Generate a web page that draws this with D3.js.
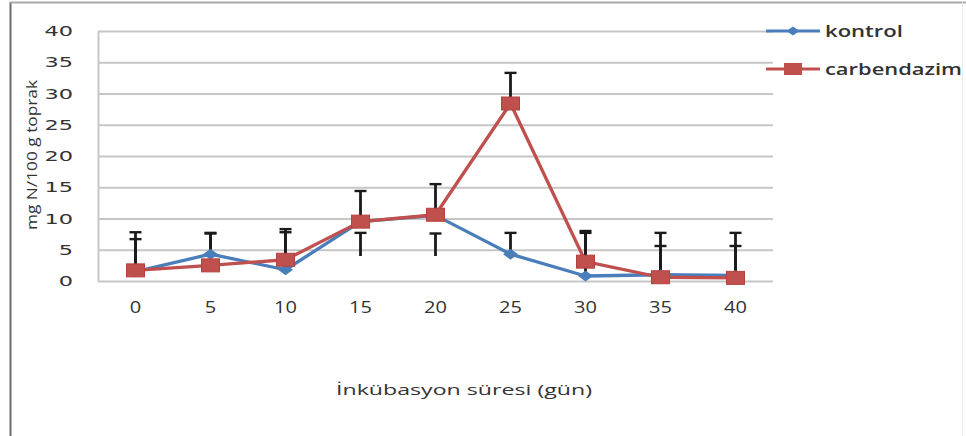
<!DOCTYPE html>
<html>
<head>
<meta charset="utf-8">
<script src="https://cdn.jsdelivr.net/npm/d3@7"></script>
<style>
  html, body { margin: 0; padding: 0; background: #fff; }
  svg { display: block; }
</style>
</head>
<body>
<svg id="chart" width="966" height="436"></svg>
<script>
// Incubation days (category axis)
const days = [0, 5, 10, 15, 20, 25, 30, 35, 40];
// Mineral N, mg N / 100 g soil
const kontrol     = [1.5, 4.3, 1.8, 9.5, 10.5, 4.3, 0.8, 1.0, 0.9];
const carbendazim = [1.7, 2.5, 3.4, 9.5, 10.6, 28.4, 3.1, 0.6, 0.5];
// Error bar extents (line from low to high, cap on the high end)
const kontrolErrLow      = [1.5, 4.3, 1.8, 4.0, 4.0, 4.3, 0.8, 1.0, 0.9];
const kontrolErrHigh     = [6.7, 7.6, 7.8, 7.7, 7.6, 7.7, 7.7, 5.6, 5.6];
const carbendazimErrLow  = [1.7, 2.5, 3.4, 9.5, 10.6, 28.4, 3.1, 0.6, 0.5];
const carbendazimErrHigh = [7.8, 7.7, 8.3, 14.4, 15.5, 33.3, 8.0, 7.7, 7.7];
const yTicks = [0, 5, 10, 15, 20, 25, 30, 35, 40];

const seriesNames = ["kontrol", "carbendazim"];
const colors = { kontrol: "#4A7EBB", carbendazim: "#C0504D" };

const svg = d3.select("#chart");

// outer frame
svg.append("line").attr("x1", 10.5).attr("x2", 10.5).attr("y1", 2).attr("y2", 436)
  .attr("stroke", "#6b6b6b").attr("stroke-width", 2);
svg.append("line").attr("x1", 10).attr("x2", 966).attr("y1", 2.5).attr("y2", 2.5)
  .attr("stroke", "#a8a8a8").attr("stroke-width", 2);
svg.append("line").attr("x1", 962.5).attr("x2", 962.5).attr("y1", 2).attr("y2", 436)
  .attr("stroke", "#ececec").attr("stroke-width", 1);

const plot = { left: 98, right: 773, top: 31, bottom: 281 };

const x = d3.scaleBand().domain(days).range([plot.left, plot.right]);
const cx = d => x(d) + x.bandwidth() / 2;
const y = d3.scaleLinear().domain([0, 40]).range([plot.bottom, plot.top]);

// horizontal gridlines
const yAxis = d3.axisLeft(y).tickValues(yTicks)
  .tickSizeInner(-(plot.right - plot.left)).tickSizeOuter(0).tickFormat("");
const gy = svg.append("g").attr("transform", `translate(${plot.left},0)`).call(yAxis);
gy.select(".domain").attr("stroke", "#c6c6c6").attr("stroke-width", 2);
gy.selectAll(".tick line").attr("stroke", "#c6c6c6").attr("stroke-width", 2);

// y tick labels (wide face)
svg.append("g").selectAll("text").data(yTicks).join("text")
  .attr("transform", d => `translate(73,${y(d)}) scale(1.55,1)`)
  .attr("text-anchor", "end").attr("dy", "0.36em")
  .attr("font-family", "DejaVu Sans").attr("font-size", 14.5)
  .attr("fill", "#333").text(d => d);

// x tick labels
const xAxis = d3.axisBottom(x).tickSize(0).tickPadding(0);
const gx = svg.append("g").attr("transform", `translate(0,${plot.bottom})`).call(xAxis);
gx.select(".domain").remove();
gx.selectAll(".tick text")
  .attr("y", 0).attr("dy", 0)
  .attr("transform", "translate(0,32) scale(1.25,1)")
  .attr("font-family", "Open Sans").attr("font-size", 16).attr("fill", "#333");

// axis titles
svg.append("text")
  .attr("transform", "translate(32,155) rotate(-90)")
  .attr("text-anchor", "middle").attr("dy", "0.35em")
  .attr("font-family", "Open Sans").attr("font-size", 15)
  .attr("textLength", 150).attr("lengthAdjust", "spacingAndGlyphs")
  .attr("fill", "#333").text("mg N/100 g toprak");

svg.append("text")
  .attr("x", 336).attr("y", 395)
  .attr("font-family", "Open Sans").attr("font-size", 15)
  .attr("textLength", 256).attr("lengthAdjust", "spacingAndGlyphs")
  .attr("fill", "#333").text("İnkübasyon süresi (gün)");

// error bars
const errData = [];
days.forEach((d, i) => {
  errData.push({ d, lo: kontrolErrLow[i], hi: kontrolErrHigh[i] });
  errData.push({ d, lo: carbendazimErrLow[i], hi: carbendazimErrHigh[i] });
});
const eg = svg.append("g").attr("stroke", "#1a1a1a");
eg.selectAll("line.v").data(errData).join("line").attr("class", "v")
  .attr("x1", e => cx(e.d)).attr("x2", e => cx(e.d))
  .attr("y1", e => y(e.lo)).attr("y2", e => y(e.hi)).attr("stroke-width", 2.8);
eg.selectAll("line.c").data(errData).join("line").attr("class", "c")
  .attr("x1", e => cx(e.d) - 6).attr("x2", e => cx(e.d) + 6)
  .attr("y1", e => y(e.hi)).attr("y2", e => y(e.hi)).attr("stroke-width", 2.4);

// series lines and markers
const line = d3.line().x((v, i) => cx(days[i])).y(v => y(v));
const diamond = (g, px, py, w, h) => g.append("path")
  .attr("d", `M${px - w / 2},${py}L${px},${py - h / 2}L${px + w / 2},${py}L${px},${py + h / 2}Z`);

// kontrol
svg.append("path").datum(kontrol).attr("d", line).attr("fill", "none")
  .attr("stroke", colors.kontrol).attr("stroke-width", 3.3).attr("stroke-linejoin", "round");
const km = svg.append("g").attr("fill", colors.kontrol);
km.selectAll("path").data(kontrol).join("path")
  .attr("d", (v, i) => {
    const px = cx(days[i]), py = y(v), w = 15, h = 11;
    return `M${px - w / 2},${py}L${px},${py - h / 2}L${px + w / 2},${py}L${px},${py + h / 2}Z`;
  });

// carbendazim
svg.append("path").datum(carbendazim).attr("d", line).attr("fill", "none")
  .attr("stroke", colors.carbendazim).attr("stroke-width", 3.3).attr("stroke-linejoin", "round");
svg.append("g").attr("fill", colors.carbendazim).attr("stroke", "#b5413e").attr("stroke-width", 1)
  .selectAll("rect").data(carbendazim).join("rect")
  .attr("x", (v, i) => cx(days[i]) - 9).attr("y", v => y(v) - 6.5)
  .attr("width", 18).attr("height", 13);

// legend
const legend = svg.append("g");
seriesNames.forEach((name, i) => {
  const ly = 31 + i * 38;
  legend.append("line").attr("x1", 766).attr("x2", 820).attr("y1", ly).attr("y2", ly)
    .attr("stroke", colors[name]).attr("stroke-width", 3);
  if (name === "kontrol") {
    diamond(legend, 793, ly, 13, 9).attr("fill", colors[name]);
  } else {
    legend.append("rect").attr("x", 784).attr("y", ly - 6).attr("width", 18).attr("height", 12)
      .attr("fill", colors[name]);
  }
  legend.append("text").attr("x", 825).attr("y", ly).attr("dy", "0.35em")
    .attr("font-family", "Open Sans").attr("font-size", 16).attr("font-weight", 600)
    .attr("textLength", name === "kontrol" ? 78 : 137).attr("lengthAdjust", "spacingAndGlyphs")
    .attr("fill", "#333").text(name);
});
</script>
</body>
</html>
